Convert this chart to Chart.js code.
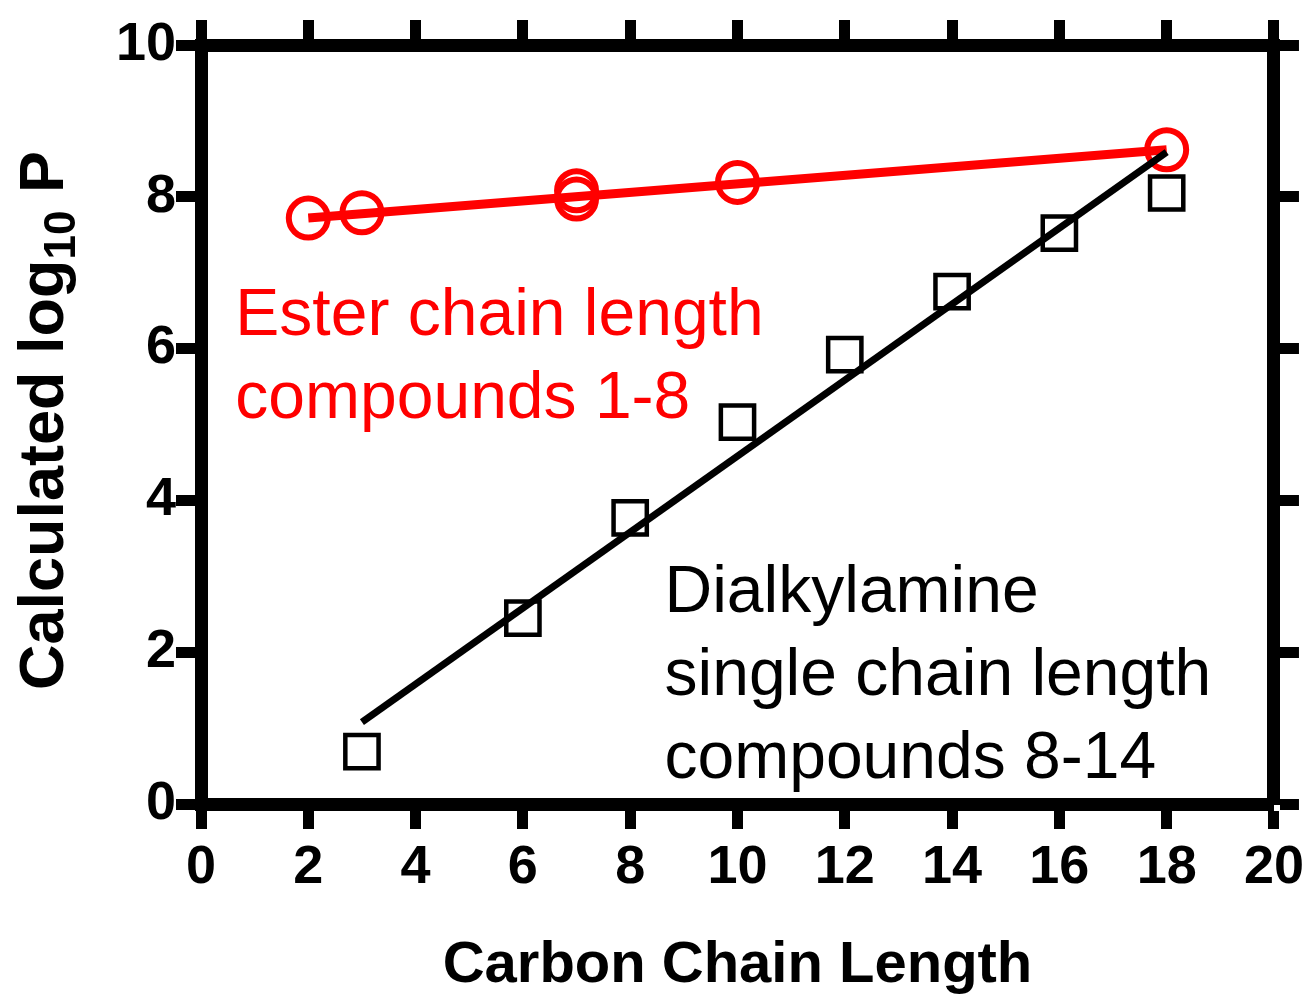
<!DOCTYPE html>
<html>
<head>
<meta charset="utf-8">
<script src="https://cdn.jsdelivr.net/npm/chart.js@4.4.1/dist/chart.umd.min.js"></script>
<style>
  html, body { margin: 0; padding: 0; background: #ffffff; }
  #wrap { width: 1311px; height: 994px; }
</style>
</head>
<body>
<div id="wrap"><canvas id="chart" width="1311" height="994"></canvas></div>
<script>
// Ester series (compounds 1-8): carbon chain length vs calculated log10 P
const esterChain = [2, 3, 7, 7, 10, 18];
const esterLogP  = [7.72, 7.79, 7.97, 8.08, 8.19, 8.62];

// Dialkylamine series (compounds 8-14)
const amineChain = [3, 6, 8, 10, 12, 14, 16, 18];
const amineLogP  = [0.69, 2.45, 3.77, 5.03, 5.92, 6.75, 7.52, 8.05];

// Fitted trend lines (end points)
const esterFitChain = [2, 18];
const esterFitLogP  = [7.72, 8.62];
const amineFitChain = [3, 18];
const amineFitLogP  = [1.08, 8.59];

// Axis ticks
const xTicks = [0, 2, 4, 6, 8, 10, 12, 14, 16, 18, 20];
const yTicks = [0, 2, 4, 6, 8, 10];

const RED = '#ff0000';
const BLACK = '#000000';
const FONT = '"Liberation Sans", Arial, Helvetica, sans-serif';

const toXY = (xs, ys) => xs.map((x, i) => ({ x: x, y: ys[i] }));

// Text blocks placed in data coordinates (baseline of first line)
const notes = [
  { lines: ['Ester chain length', 'compounds 1-8'], x: 0.64, y: 6.18, color: RED },
  { lines: ['Dialkylamine', 'single chain length', 'compounds 8-14'], x: 8.64, y: 2.53, color: BLACK }
];

const frameGrid = { drawOnChartArea: false, tickLength: 25, tickWidth: 11, tickColor: BLACK };
const frameBorder = { display: true, width: 13, color: BLACK };

const textPlugin = {
  id: 'chartText',
  afterDatasetsDraw(chart) {
    const ctx = chart.ctx;
    const xs = chart.scales.x, ys = chart.scales.y;
    ctx.save();
    ctx.font = '66px ' + FONT;
    ctx.textAlign = 'left';
    ctx.textBaseline = 'alphabetic';
    notes.forEach(n => {
      const px = xs.getPixelForValue(n.x);
      const py = ys.getPixelForValue(n.y);
      ctx.fillStyle = n.color;
      n.lines.forEach((t, i) => ctx.fillText(t, px, py + i * 83));
    });
    ctx.restore();

    // Rotated y-axis title with subscript
    const area = chart.chartArea;
    const cy = (area.top + area.bottom) / 2 - 4;
    const parts = [
      { t: 'Calculated log', size: 63, dy: 0 },
      { t: '10', size: 44, dy: 12 },
      { t: ' P', size: 63, dy: 0 }
    ];
    ctx.save();
    let total = 0;
    parts.forEach(p => { ctx.font = 'bold ' + p.size + 'px ' + FONT; p.w = ctx.measureText(p.t).width; total += p.w; });
    ctx.translate(63, cy);
    ctx.rotate(-Math.PI / 2);
    ctx.fillStyle = BLACK;
    ctx.textBaseline = 'alphabetic';
    ctx.textAlign = 'left';
    let cx = -total / 2;
    parts.forEach(p => {
      ctx.font = 'bold ' + p.size + 'px ' + FONT;
      ctx.fillText(p.t, cx, p.dy);
      cx += p.w;
    });
    ctx.restore();
  }
};

new Chart(document.getElementById('chart'), {
  type: 'scatter',
  data: {
    datasets: [
      {
        label: 'Dialkylamine fit',
        type: 'line',
        data: toXY(amineFitChain, amineFitLogP),
        borderColor: BLACK,
        borderWidth: 7,
        pointRadius: 0,
        fill: false,
        order: 1
      },
      {
        label: 'Dialkylamine',
        data: toXY(amineChain, amineLogP),
        pointStyle: 'rect',
        pointRadius: 23.5,
        pointHoverRadius: 23.5,
        pointBorderWidth: 4.5,
        pointBorderColor: BLACK,
        pointBackgroundColor: 'rgba(0,0,0,0)',
        order: 2
      },
      {
        label: 'Ester fit',
        type: 'line',
        data: toXY(esterFitChain, esterFitLogP),
        borderColor: RED,
        borderWidth: 9,
        pointRadius: 0,
        fill: false,
        order: 3
      },
      {
        label: 'Ester',
        data: toXY(esterChain, esterLogP),
        pointStyle: 'circle',
        pointRadius: 19.5,
        pointHoverRadius: 19.5,
        pointBorderWidth: 6,
        pointBorderColor: RED,
        pointBackgroundColor: 'rgba(0,0,0,0)',
        order: 4
      }
    ]
  },
  options: {
    responsive: false,
    animation: false,
    devicePixelRatio: 1,
    layout: { padding: 0 },
    plugins: { legend: { display: false }, tooltip: { enabled: false } },
    events: [],
    scales: {
      x: {
        type: 'linear', position: 'bottom', min: 0, max: 20,
        afterBuildTicks: s => { s.ticks = xTicks.map(v => ({ value: v })); },
        afterFit: s => { s.height = 190; },
        ticks: { color: BLACK, font: { family: FONT, size: 54, weight: 'bold' }, padding: 7, maxRotation: 0 },
        grid: frameGrid, border: frameBorder,
        title: { display: true, text: 'Carbon Chain Length', color: BLACK,
                 font: { family: FONT, size: 58, weight: 'bold' }, padding: { top: 0, bottom: -7 } }
      },
      x2: {
        type: 'linear', position: 'top', min: 0, max: 20,
        afterBuildTicks: s => { s.ticks = xTicks.map(v => ({ value: v })); },
        afterFit: s => { s.height = 45; },
        ticks: { display: false },
        grid: frameGrid, border: frameBorder
      },
      y: {
        type: 'linear', position: 'left', min: 0, max: 10,
        afterBuildTicks: s => { s.ticks = yTicks.map(v => ({ value: v })); },
        afterFit: s => { s.width = 201; },
        ticks: { color: BLACK, font: { family: FONT, size: 54, weight: 'bold' }, padding: 0 },
        grid: frameGrid, border: frameBorder
      },
      y2: {
        type: 'linear', position: 'right', min: 0, max: 10,
        afterBuildTicks: s => { s.ticks = yTicks.map(v => ({ value: v })); },
        afterFit: s => { s.width = 36; },
        ticks: { display: false },
        grid: frameGrid, border: frameBorder
      }
    }
  },
  plugins: [textPlugin]
});
</script>
</body>
</html>
